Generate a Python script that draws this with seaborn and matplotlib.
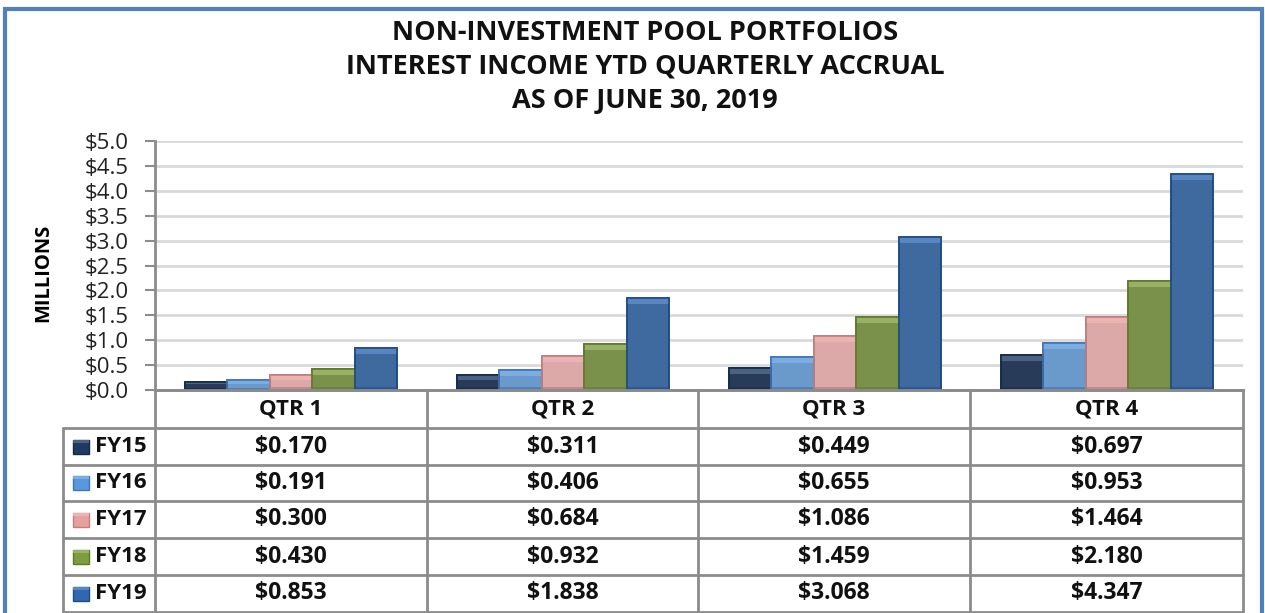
# Non-investment pool portfolios - interest income YTD quarterly accrual
import pandas as pd
import matplotlib
matplotlib.use('Agg')
import matplotlib.pyplot as plt
import matplotlib.colors as mcolors
import seaborn as sns
from matplotlib.lines import Line2D
from matplotlib.patches import Rectangle

# Data (millions)
quarters = ['QTR 1', 'QTR 2', 'QTR 3', 'QTR 4']
years = ['FY15', 'FY16', 'FY17', 'FY18', 'FY19']
fy15 = [0.170, 0.311, 0.449, 0.697]
fy16 = [0.191, 0.406, 0.655, 0.953]
fy17 = [0.300, 0.684, 1.086, 1.464]
fy18 = [0.430, 0.932, 1.459, 2.180]
fy19 = [0.853, 1.838, 3.068, 4.347]
colors = ['#1F3B63', '#5A98DC', '#E6A19F', '#7E9D3F', '#2F68B0']
edges = ['#152A48', '#3F76B5', '#C07E7C', '#5C7A2A', '#1F4C86']

series = [fy15, fy16, fy17, fy18, fy19]
rows = []
for yr, vals in zip(years, series):
    for q, v in zip(quarters, vals):
        rows.append({'Quarter': q, 'Year': yr, 'Value': v})
df = pd.DataFrame(rows)

sns.set_theme(style='white')
plt.rcParams['font.family'] = ['Open Sans', 'DejaVu Sans']

W, H = 1265, 613
fig = plt.figure(figsize=(W / 100, H / 100), dpi=100)

def fx(x):
    return x / W

def fy(y):
    return 1 - y / H

def shade(c, f):
    # f > 0 lightens toward white, f < 0 darkens toward black
    r, g, b = mcolors.to_rgb(c)
    if f > 0:
        return (r + (1 - r) * f, g + (1 - g) * f, b + (1 - b) * f)
    return (r * (1 + f), g * (1 + f), b * (1 + f))

# plot area in pixels
left, right, top, bottom = 155, 1243, 141, 390
ax = fig.add_axes([fx(left), fy(bottom), fx(right - left), (bottom - top) / H])

sns.barplot(data=df, x='Quarter', y='Value', hue='Year', order=quarters,
            hue_order=years, palette=colors, width=0.78, gap=0,
            legend=False, ax=ax, zorder=3)

# bevel look: darker edge, lighter top band, darker bottom band
n = len(quarters)
px_y = 5 / (bottom - top)  # data units per pixel
bars = list(ax.patches)
for i, p in enumerate(bars):
    k = i // n
    if k >= len(edges):
        continue
    p.set_edgecolor(edges[k])
    p.set_linewidth(1.2)
    x0, w, h = p.get_x(), p.get_width(), p.get_height()
    band = min(6 * px_y, h * 0.35)
    ax.add_patch(Rectangle((x0, h - band), w, band, facecolor=shade(colors[k], 0.2),
                           edgecolor='none', zorder=3.5))
    ax.add_patch(Rectangle((x0, 0), w, min(3 * px_y, h * 0.2),
                           facecolor=shade(colors[k], -0.15), edgecolor='none', zorder=3.5))
    ax.add_patch(Rectangle((x0, 0), w, h, facecolor='none', edgecolor=edges[k],
                           lw=1.2, zorder=3.6))

ax.set_xlim(-0.5, 3.5)
ax.set_ylim(0, 5)
ax.set_yticks([i * 0.5 for i in range(11)])
ax.set_yticklabels([f'${i * 0.5:.1f}' for i in range(11)], fontsize=16, color='#222222')
ax.set_xticks([])
ax.set_xlabel('')
ax.set_ylabel('')
ax.yaxis.grid(True, color='#D9D9D9', linewidth=2, zorder=0)
ax.set_axisbelow(True)
for s in ['top', 'right']:
    ax.spines[s].set_visible(False)
ax.spines['left'].set_color('#8C8C8C')
ax.spines['left'].set_linewidth(2)
ax.spines['bottom'].set_color('#8C8C8C')
ax.spines['bottom'].set_linewidth(2)
ax.tick_params(axis='y', left=True, length=7, width=1.5, color='#8C8C8C', pad=12)

fig.text(fx(43), fy(273), 'MILLIONS', rotation=90, ha='center', va='center',
         fontsize=14.5, fontweight='bold', color='black')

# title
titles = ['NON-INVESTMENT POOL PORTFOLIOS',
          'INTEREST INCOME YTD QUARTERLY ACCRUAL',
          'AS OF JUNE 30, 2019']
for j, t in enumerate(titles):
    fig.text(fx(645), fy(33 + j * 34), t, ha='center', va='center',
             fontsize=19.5, fontweight='bold', color='#111111')

# data table under the chart
line_c = '#8C8C8C'
col_x = [155, 427, 698, 970, 1243]
row_y = [390, 428, 465, 501, 538, 575, 612]
leg_left = 63

def hline(x0, x1, y):
    fig.add_artist(Line2D([fx(x0), fx(x1)], [fy(y), fy(y)], color=line_c, lw=2))

def vline(x, y0, y1):
    fig.add_artist(Line2D([fx(x), fx(x)], [fy(y0), fy(y1)], color=line_c, lw=2))

hline(left, right, row_y[0])
for y in row_y[1:]:
    hline(leg_left, right, y)
for x in col_x:
    vline(x, row_y[0], 640)
vline(leg_left, row_y[1], 640)

for c, q in enumerate(quarters):
    cx = (col_x[c] + col_x[c + 1]) / 2
    fig.text(fx(cx), fy((row_y[0] + row_y[1]) / 2), q, ha='center', va='center',
             fontsize=16, fontweight='bold', color='#111111')

for r, (yr, vals) in enumerate(zip(years, series)):
    cy = (row_y[r + 1] + row_y[r + 2]) / 2
    fig.add_artist(Rectangle((fx(73), fy(cy + 7)), fx(16), 14 / H,
                             facecolor=colors[r], edgecolor=edges[r], lw=1))
    fig.add_artist(Rectangle((fx(73), fy(cy - 4)), fx(16), 3 / H,
                             facecolor=shade(colors[r], 0.2), edgecolor='none'))
    fig.text(fx(95), fy(cy), yr, ha='left', va='center',
             fontsize=16, fontweight='bold', color='#111111')
    for c, v in enumerate(vals):
        cx = (col_x[c] + col_x[c + 1]) / 2
        fig.text(fx(cx), fy(cy), f'${v:.3f}', ha='center', va='center',
                 fontsize=16.5, fontweight='bold', color='#111111')

# blue outer frame
fig.add_artist(Rectangle((fx(5), fy(640)), fx(1257), 631 / H, fill=False,
                         edgecolor='#4F81BD', lw=3))

fig.savefig('out.png', dpi=100, facecolor='white')
